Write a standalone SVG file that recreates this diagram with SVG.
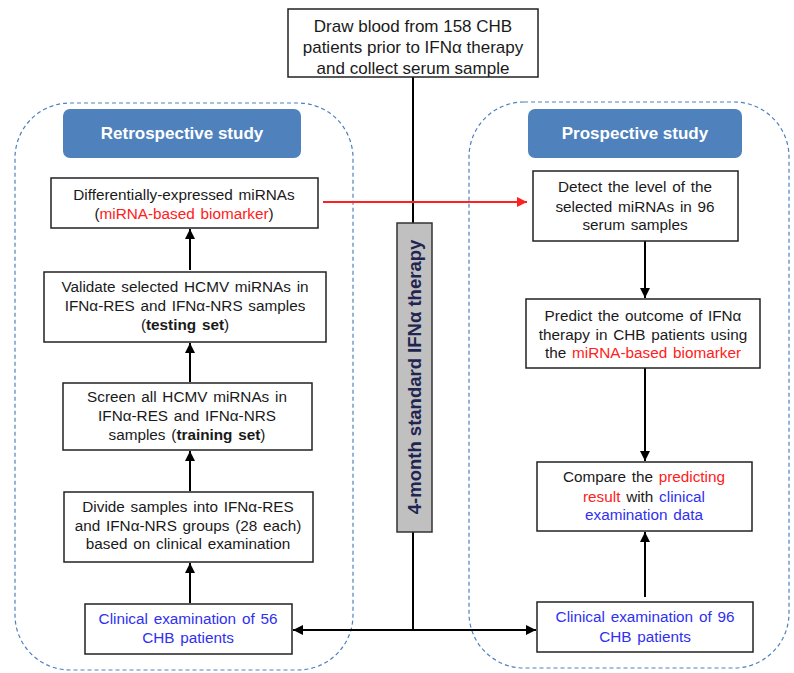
<svg xmlns="http://www.w3.org/2000/svg" width="794" height="673" viewBox="0 0 794 673">
<defs>
<style>
.box{fill:#fff;stroke:#222;stroke-width:1.5}
.t{font-family:"Liberation Sans",Arial,sans-serif;font-size:15.3px;word-spacing:1.5px;fill:#1a1a1a;text-anchor:middle}
.big{font-size:17px;word-spacing:0}
.hdr{fill:#4F81BD;stroke:none}
.ht{font-family:"Liberation Sans",Arial,sans-serif;font-size:17px;font-weight:bold;fill:#fff;text-anchor:middle}
.dash{fill:none;stroke:#4F81BD;stroke-width:1.2;stroke-dasharray:4 3}
.ln{stroke:#000;stroke-width:2;fill:none}
.red{fill:#FF2020}
.blue{fill:#3030F0}
.b{font-weight:bold}
</style>
<marker id="ah" viewBox="0 0 10 10" refX="10" refY="5" markerWidth="10" markerHeight="10" markerUnits="userSpaceOnUse" orient="auto">
<path d="M0,0 L10,5 L0,10 z" fill="#000"/>
</marker>
<marker id="ahr" viewBox="0 0 10 10" refX="10" refY="5" markerWidth="10" markerHeight="10" markerUnits="userSpaceOnUse" orient="auto">
<path d="M0,0 L10,5 L0,10 z" fill="#FF2020"/>
</marker>
</defs>

<g id="retro-panel">
<rect class="dash" x="15" y="103" width="338" height="567" rx="55" ry="55"/>
</g>
<g id="prosp-panel">
<rect class="dash" x="469" y="102" width="320" height="566" rx="55" ry="55"/>
</g>

<g id="connectors">
<line class="ln" x1="413" y1="77" x2="413" y2="630"/>
<line class="ln" x1="413" y1="630" x2="293" y2="630" marker-end="url(#ah)"/>
<line class="ln" x1="413" y1="630" x2="536" y2="630" marker-end="url(#ah)"/>
<line x1="323" y1="202" x2="527" y2="202" stroke="#FF2020" stroke-width="2" marker-end="url(#ahr)"/>
<line class="ln" x1="190" y1="270" x2="190" y2="229" marker-end="url(#ah)"/>
<line class="ln" x1="190" y1="382" x2="190" y2="343" marker-end="url(#ah)"/>
<line class="ln" x1="190" y1="491" x2="190" y2="451" marker-end="url(#ah)"/>
<line class="ln" x1="190" y1="603" x2="190" y2="563" marker-end="url(#ah)"/>
<line class="ln" x1="645" y1="241" x2="645" y2="298" marker-end="url(#ah)"/>
<line class="ln" x1="645" y1="368" x2="645" y2="461" marker-end="url(#ah)"/>
<line class="ln" x1="645" y1="597" x2="645" y2="532" marker-end="url(#ah)"/>
</g>

<g id="top">
<rect class="box" x="288" y="9" width="250" height="68"/>
<text class="t big" x="413" y="32">Draw blood from 158 CHB</text>
<text class="t big" x="413" y="53">patients prior to IFNα therapy</text>
<text class="t big" x="413" y="74">and collect serum sample</text>
</g>

<g id="therapy">
<rect x="397" y="223" width="35" height="309" fill="#C0C0C0" stroke="#333" stroke-width="1.5"/>
<text transform="translate(421,377) rotate(-90)" font-family="'Liberation Sans',Arial,sans-serif" font-size="18.5" font-weight="bold" fill="#1F2550" text-anchor="middle">4-month standard IFNα therapy</text>
</g>

<g id="retro-header">
<rect class="hdr" x="63" y="109" width="238" height="49" rx="7"/>
<text class="ht" x="182" y="139">Retrospective study</text>
</g>
<g id="prosp-header">
<rect class="hdr" x="528" y="109" width="214" height="49" rx="7"/>
<text class="ht" x="635" y="139">Prospective study</text>
</g>

<g id="l1">
<rect class="box" x="51" y="178" width="267" height="50"/>
<text class="t" x="184" y="200">Differentially-expressed  miRNAs</text>
<text class="t" x="184" y="219">(<tspan class="red">miRNA-based  biomarker</tspan>)</text>
</g>
<g id="l2">
<rect class="box" x="44" y="272" width="282" height="70"/>
<text class="t" x="185" y="292">Validate selected HCMV miRNAs in</text>
<text class="t" x="185" y="311">IFNα-RES and IFNα-NRS samples</text>
<text class="t" x="185" y="330">(<tspan class="b">testing set</tspan>)</text>
</g>
<g id="l3">
<rect class="box" x="63" y="383" width="249" height="67"/>
<text class="t" x="187" y="402">Screen all HCMV miRNAs in</text>
<text class="t" x="187" y="421">IFNα-RES and IFNα-NRS</text>
<text class="t" x="187" y="440">samples (<tspan class="b">training set</tspan>)</text>
</g>
<g id="l4">
<rect class="box" x="64" y="492" width="249" height="70"/>
<text class="t" x="188" y="512">Divide samples into IFNα-RES</text>
<text class="t" x="188" y="531">and IFNα-NRS groups (28 each)</text>
<text class="t" x="188" y="549">based on clinical examination</text>
</g>
<g id="l5">
<rect class="box" x="85" y="604" width="207" height="50"/>
<text class="t blue" x="188" y="624">Clinical examination of 56</text>
<text class="t blue" x="188" y="643">CHB patients</text>
</g>

<g id="r1">
<rect class="box" x="533" y="171" width="205" height="70"/>
<text class="t" x="635" y="192">Detect the level of the</text>
<text class="t" x="635" y="212">selected miRNAs in 96</text>
<text class="t" x="635" y="230">serum samples</text>
</g>
<g id="r2">
<rect class="box" x="526" y="299" width="234" height="69"/>
<text class="t" x="643" y="321">Predict the outcome of IFNα</text>
<text class="t" x="643" y="340">therapy in CHB patients using</text>
<text class="t" x="643" y="358">the <tspan class="red">miRNA-based biomarker</tspan></text>
</g>
<g id="r3">
<rect class="box" x="537" y="462" width="215" height="69"/>
<text class="t" x="644" y="482">Compare the <tspan class="red">predicting</tspan></text>
<text class="t" x="644" y="502"><tspan class="red">result</tspan> with <tspan class="blue">clinical</tspan></text>
<text class="t blue" x="644" y="520">examination data</text>
</g>
<g id="r4">
<rect class="box" x="537" y="602" width="216" height="50"/>
<text class="t blue" x="645" y="622">Clinical examination of 96</text>
<text class="t blue" x="645" y="642">CHB patients</text>
</g>
</svg>
